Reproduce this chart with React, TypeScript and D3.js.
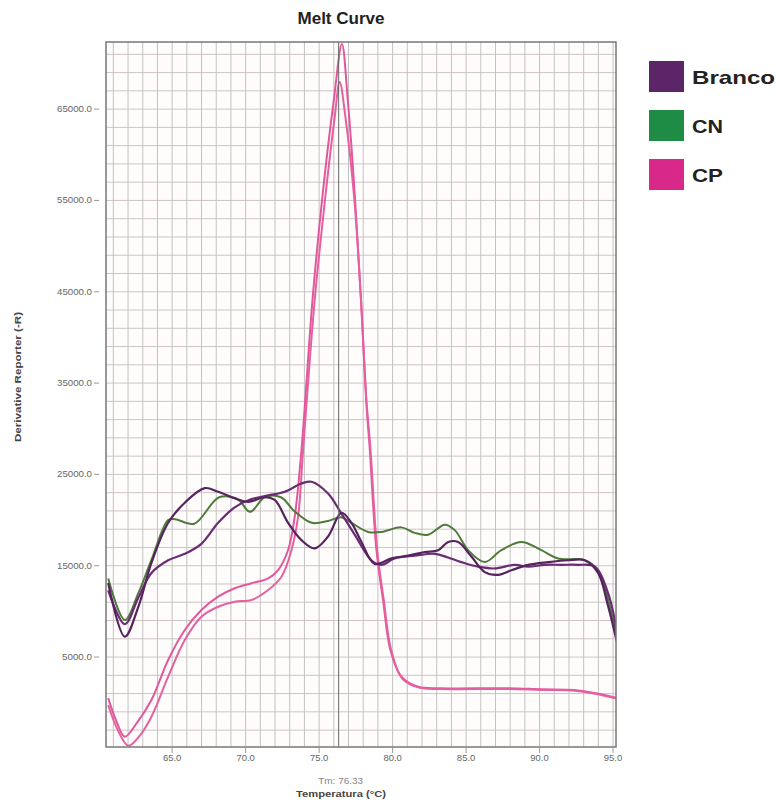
import React from "react";
import * as d3 from "d3";

type Pt = [number, number];

const xTicks = [65, 70, 75, 80, 85, 90, 95];
const yTicks = [5000, 15000, 25000, 35000, 45000, 55000, 65000];
const tm = 76.33;

const legendNames = ["Branco", "CN", "CP"];
const legendColors = ["#5b2568", "#1e8c45", "#d8298a"];

const cpA: Pt[] = [
  [60.65, 500], [61.2, -2000], [61.78, -3720], [62.6, -2200], [63.59, 300], [64.73, 4680], [65.86, 7960],
  [66.99, 10150], [68.13, 11610], [69.26, 12530], [70.4, 13080], [71.53, 13620],
  [72.21, 14530], [72.89, 16720], [73.34, 20370], [73.8, 27670], [74.55, 44100],
  [75.2, 55050], [76.0, 66000], [76.55, 72130], [76.95, 66000], [77.45, 55050],
  [77.85, 44100], [78.2, 33150], [78.45, 27670], [78.9, 16720], [79.35, 11250],
  [79.85, 5770], [80.6, 2850], [81.74, 1750], [83.32, 1580], [87.86, 1580],
  [90.12, 1470], [92.37, 1390], [93.73, 1060], [95.34, 500],
];

const cpB: Pt[] = [
  [60.65, -250], [61.3, -3000], [62.01, -4700], [62.8, -3600], [63.59, -1530], [64.73, 2850], [65.86, 6870],
  [66.99, 9420], [68.13, 10510], [69.26, 11060], [70.4, 11250], [71.53, 12340],
  [72.44, 13800], [73.12, 16720], [73.57, 20370], [73.91, 27670], [74.7, 44100],
  [75.4, 55050], [76.05, 64000], [76.4, 67970], [76.8, 64000], [77.4, 55050],
  [77.85, 44100], [78.22, 33150], [78.5, 27670], [78.95, 16720], [79.4, 11250],
  [79.9, 5770], [80.65, 2650], [81.8, 1650], [83.3, 1500], [87.9, 1500],
  [90.1, 1400], [92.4, 1300], [93.7, 1000], [95.34, 400],
];

const cn: Pt[] = [
  [60.65, 13600], [61.78, 9060], [62.7, 12000], [63.59, 15630], [64.73, 20010], [65.2, 20100],
  [66.5, 19600], [68.2, 22500], [69.5, 22200], [70.3, 20900], [71.3, 22500],
  [72.4, 22500], [73.3, 21000], [74.5, 19700], [75.6, 19900], [76.5, 20300],
  [77.2, 19700], [78.33, 18700], [79.24, 18700], [80.6, 19200], [81.5, 18600],
  [82.42, 18400], [83.55, 19500], [84.23, 18900], [85.14, 16700], [86.27, 15400],
  [87.4, 16700], [88.76, 17600], [90.12, 16700], [91.26, 15800], [93.07, 15600],
  [93.98, 14500], [94.66, 11300], [95.34, 6500],
];

const branco1: Pt[] = [
  [60.65, 13100], [61.78, 7230], [62.7, 10500], [63.59, 15300], [64.73, 19700], [65.86, 21900],
  [67.22, 23500], [68.13, 23100], [69.26, 22400], [70.17, 22000], [71.3, 22500],
  [71.98, 22200], [72.89, 19700], [73.8, 17800], [74.7, 16900], [75.61, 18200],
  [76.52, 20800], [77.2, 19700], [77.88, 17600], [78.78, 15200], [79.92, 15800],
  [81.06, 16100], [82.19, 16500], [83.1, 16700], [83.78, 17600], [84.46, 17600],
  [85.36, 16000], [86.27, 14300], [87.18, 14000], [88.08, 14500], [89.22, 15100],
  [90.58, 15400], [91.94, 15600], [93.07, 15600], [93.98, 14200], [94.66, 10600],
  [95.34, 6100],
];

const branco2: Pt[] = [
  [60.65, 12300], [61.78, 8600], [62.7, 11500], [63.59, 14200], [64.73, 15600], [65.86, 16300],
  [66.99, 17400], [68.13, 19700], [69.26, 21400], [70.4, 22300], [71.53, 22700],
  [72.66, 23100], [73.8, 24000], [74.48, 24200], [75.61, 22900], [76.52, 20700],
  [77.42, 18400], [78.56, 15600], [79.24, 15100], [80.14, 15800], [81.5, 16100],
  [82.87, 16300], [83.78, 15900], [84.68, 15400], [85.82, 14900], [86.95, 14700],
  [88.31, 15100], [89.22, 14900], [90.35, 15100], [91.48, 15100], [92.62, 15100],
  [93.75, 14900], [94.66, 12000], [95.34, 7100],
];

const series: { data: Pt[]; color: string; w: number }[] = [
  { data: cpA, color: "#e0589c", w: 2 },
  { data: cpB, color: "#e4609f", w: 2 },
  { data: cn, color: "#4f7a3c", w: 2 },
  { data: branco2, color: "#6a2c72", w: 2.2 },
  { data: branco1, color: "#55235e", w: 2.2 },
];

const left = 106;
const right = 616;
const top = 42;
const bottom = 747;

export default function App() {
  const x = d3.scaleLinear().domain([60.5, 95.2]).range([left, right]);
  const y = d3.scaleLinear().domain([-4850, 72350]).range([bottom, top]);
  const line = d3
    .line<Pt>()
    .x((d) => x(d[0]))
    .y((d) => y(d[1]))
    .curve(d3.curveCatmullRom.alpha(0.5));

  const vGrid = d3.range(61, 96, 1);
  const hGrid = d3.range(-3000, 72001, 2000);
  const font = "'Liberation Sans', Arial, sans-serif";

  return (
    <svg width={776} height={803} style={{ position: "absolute", left: 0, top: 0, background: "#fff" }}>
      <defs>
        <clipPath id="plot">
          <rect x={left} y={top} width={right - left} height={bottom - top} />
        </clipPath>
      </defs>
      <text x={341} y={24} textAnchor="middle" fontFamily={font} fontWeight="bold" fontSize={16}
        textLength={87} lengthAdjust="spacingAndGlyphs" fill="#222">
        Melt Curve
      </text>
      <rect x={left} y={top} width={right - left} height={bottom - top} fill="#fffdfc" />
      {hGrid.map((v) => (
        <line key={"h" + v} x1={left} x2={right} y1={y(v)} y2={y(v)} stroke="#cfc3c5" strokeWidth={1} />
      ))}
      {vGrid.map((v) => (
        <line key={"v" + v} x1={x(v)} x2={x(v)} y1={top} y2={bottom} stroke="#c2c2c2" strokeWidth={1} />
      ))}
      <g clipPath="url(#plot)">
        {series.map((s, i) => (
          <path key={i} d={line(s.data) || ""} fill="none" stroke={s.color} strokeWidth={s.w} strokeLinejoin="round" />
        ))}
      </g>
      <line x1={x(tm)} x2={x(tm)} y1={top} y2={bottom} stroke="#666" strokeWidth={1} />
      <rect x={left} y={top} width={right - left} height={bottom - top} fill="none" stroke="#777" strokeWidth={1.5} />
      {yTicks.map((v) => {
        const s = v.toFixed(1);
        return (
          <g key={"yt" + v}>
            <line x1={left - 12} x2={left - 7} y1={y(v)} y2={y(v)} stroke="#999" />
            <text x={left - 14} y={y(v) + 3} textAnchor="end" fontFamily={font} fontSize={8.5}
              textLength={s.length * 5} lengthAdjust="spacingAndGlyphs" fill="#666">
              {s}
            </text>
          </g>
        );
      })}
      {xTicks.map((v) => {
        const s = v.toFixed(1);
        return (
          <g key={"xt" + v}>
            <line x1={x(v)} x2={x(v)} y1={bottom + 1} y2={bottom + 6} stroke="#999" />
            <text x={x(v)} y={761} textAnchor="middle" fontFamily={font} fontSize={8.5}
              textLength={s.length * 4.6} lengthAdjust="spacingAndGlyphs" fill="#666">
              {s}
            </text>
          </g>
        );
      })}
      <text x={x(tm) + 2} y={784} textAnchor="middle" fontFamily={font} fontSize={9}
        textLength={45} lengthAdjust="spacingAndGlyphs" fill="#888">
        Tm: 76.33
      </text>
      <text x={341} y={797} textAnchor="middle" fontFamily={font} fontWeight="bold" fontSize={9}
        textLength={90} lengthAdjust="spacingAndGlyphs" fill="#444">
        Temperatura (°C)
      </text>
      <text
        transform={`translate(21, 377) rotate(-90)`}
        textAnchor="middle"
        fontFamily={font}
        fontWeight="bold"
        fontSize={9}
        textLength={130}
        lengthAdjust="spacingAndGlyphs"
        fill="#444"
      >
        Derivative Reporter (-R)
      </text>
      {legendNames.map((n, i) => (
        <g key={n} transform={`translate(649, ${61 + i * 49})`}>
          <rect x={0} y={0} width={35} height={31} fill={legendColors[i]} />
          <text x={43} y={23} fontFamily={font} fontWeight="bold" fontSize={18.5}
            textLength={n.length === 6 ? 83 : 31} lengthAdjust="spacingAndGlyphs" fill="#222">
            {n}
          </text>
        </g>
      ))}
    </svg>
  );
}
